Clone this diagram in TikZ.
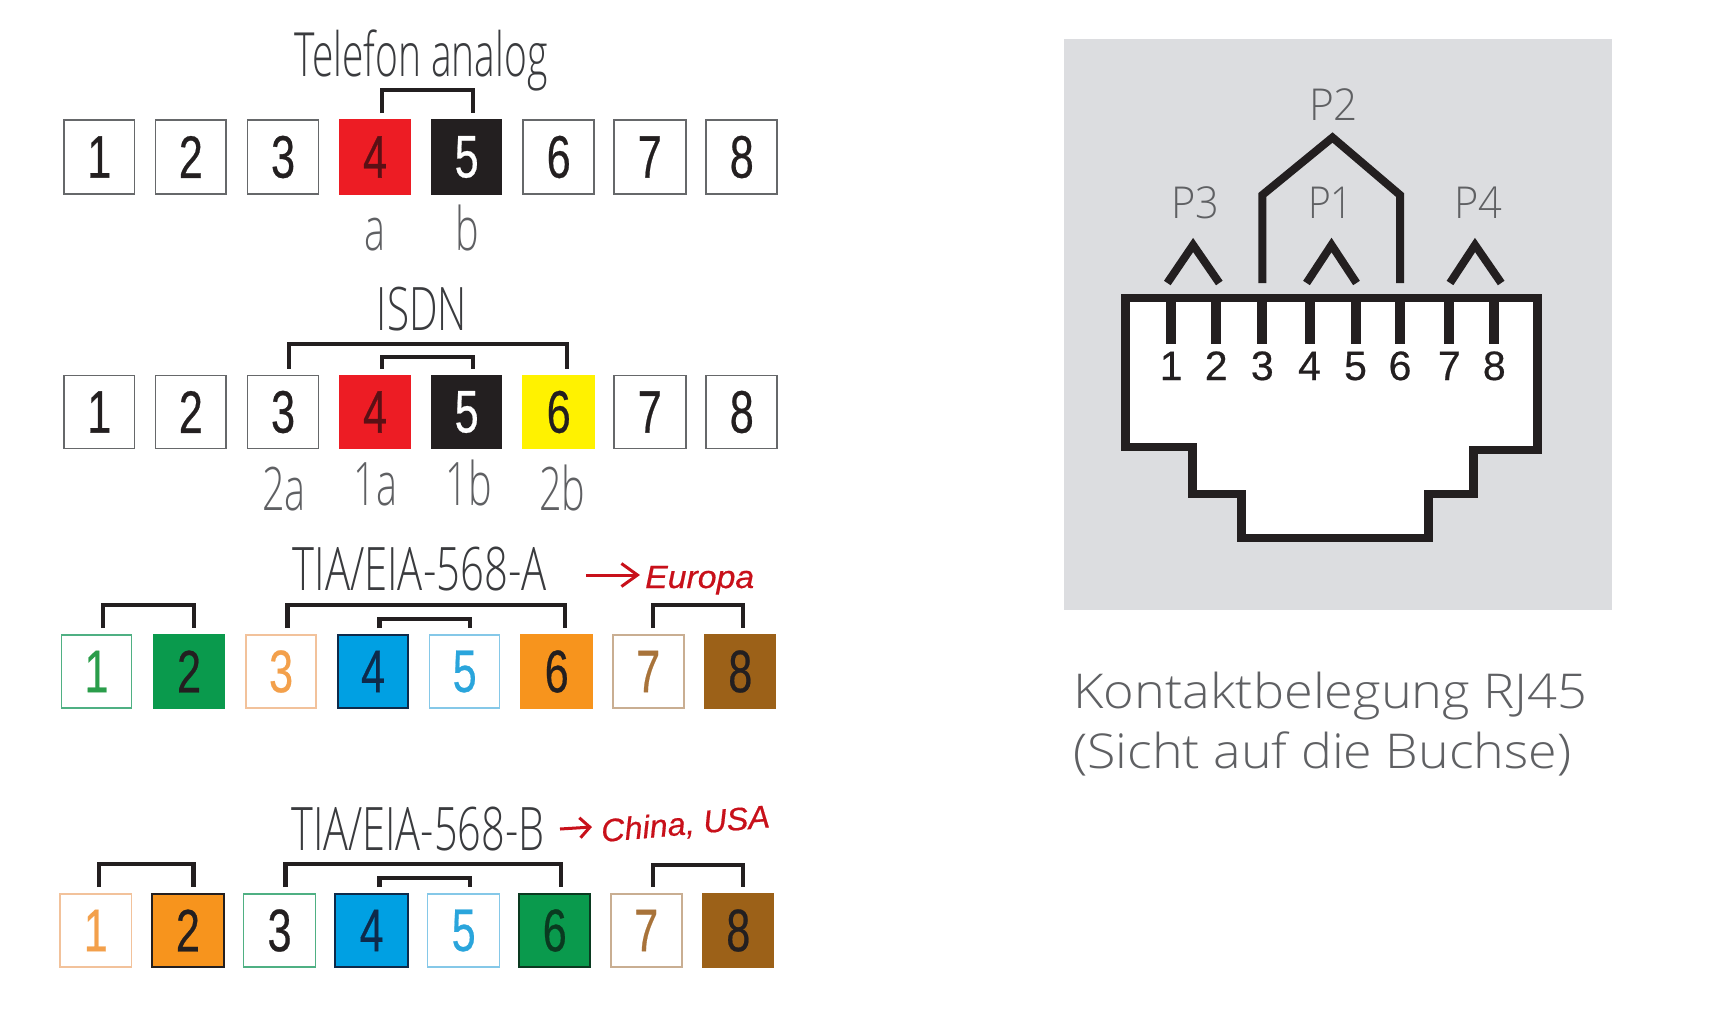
\documentclass[tikz,border=0pt]{standalone}
\usepackage{fontspec}
\usepackage{graphicx}
\setmainfont{Liberation Sans}
\newfontfamily\lightfont{Open Sans Light}
\newfontfamily\medfont[FakeBold=0.5]{Liberation Sans}
\usetikzlibrary{arrows.meta}
\definecolor{ink}{HTML}{231F20}
\definecolor{edge}{HTML}{66686A}
\definecolor{cred}{HTML}{ED1C24}
\definecolor{cyel}{HTML}{FFF200}
\definecolor{cgreen}{HTML}{0A9A4D}
\definecolor{cblue}{HTML}{00A0E3}
\definecolor{corange}{HTML}{F7941D}
\definecolor{cbrown}{HTML}{9C6118}
\definecolor{lgreen}{HTML}{4FB083}
\definecolor{lorange}{HTML}{F2C29B}
\definecolor{lblue}{HTML}{85C8E8}
\definecolor{lbrown}{HTML}{C9AE92}
\definecolor{tgreen}{HTML}{2A9D4A}
\definecolor{torange}{HTML}{F3A04B}
\definecolor{tblue}{HTML}{2AA5DC}
\definecolor{tbrown}{HTML}{A8733A}
\definecolor{tdarkred}{HTML}{5A1015}
\definecolor{tnavy}{HTML}{0E2A4A}
\definecolor{tdkgreen}{HTML}{0A3A20}
\definecolor{panel}{HTML}{DCDDE0}
\definecolor{hand}{HTML}{C8101A}
\definecolor{soft}{HTML}{5F6063}
\definecolor{title}{HTML}{3A3B3E}
\newcommand{\fsz}[1]{\fontsize{#1}{#1}\selectfont}
\newcommand{\fitw}[2]{\resizebox{#1pt}{\height}{#2}}
\newcommand{\digit}[1]{\scalebox{.72}[1]{\medfont\fsz{60}#1}}
\newcommand{\brk}[5]{\draw[bracket] ([xshift=#3pt,yshift=6pt]#1.north) -- ++(0,-#5) -| ([xshift=#4pt,yshift=6pt]#2.north);}
\begin{document}
\begin{tikzpicture}[x=1pt,y=-1pt,
  cellbox/.style={inner sep=0pt,line width=1.6pt,font=\fsz{60}},
  bracket/.style={draw=ink,line width=4.2pt,line cap=butt,line join=miter},
  heading/.style={anchor=base,inner sep=0pt,text=title,font=\lightfont},
  sublabel/.style={anchor=base,inner sep=0pt,text=soft,font=\lightfont},
  jack/.style={draw=ink,line width=8.5pt,line join=miter},
  pinline/.style={draw=ink,line width=10pt},
  caret/.style={draw=ink,line width=8pt,line join=miter},
  pinnum/.style={anchor=base,inner sep=0pt,text=ink,font=\medfont\fsz{41}},
  plabel/.style={anchor=base,inner sep=0pt,text=soft,font=\lightfont},
  caption/.style={anchor=base west,inner sep=0pt,text=soft,font=\lightfont\fsz{48}},
  handtext/.style={inner sep=0pt,text=hand,font=\medfont\itshape},
  handarrow/.style={draw=hand,line width=3pt}
]
\useasboundingbox (0,0) rectangle (1731,1012);
\fill[white] (0,0) rectangle (1731,1012);

\begin{scope}[xscale=.995]
% Row 1
\node[heading] (t1) at (423,76) {\fitw{253}{\fsz{61}Telefon analog}};
\foreach \n/\l/\r/\f/\d/\t in {1/64.5/135/white/edge/ink,2/156.6/227/white/edge/ink,3/249/320/white/edge/ink,4/342/412/cred/cred/tdarkred,5/434/504/ink/ink/white,6/526/597/white/edge/ink,7/617/689/white/edge/ink,8/710/781/white/edge/ink}
  \node[cellbox,draw=\d,fill=\f,text=\t,minimum width={\r-\l},minimum height=74pt] (a\n) at ({(\l+\r)/2},157) {\digit{\n}};
\brk{a4}{a5}{7}{6}{23}
\node[sublabel] (la) at (377,250) {\scalebox{.66}[1]{\fsz{60}a}};
\node[sublabel] (lb) at (470,250) {\scalebox{.66}[1]{\fsz{60}b}};

% Row 2
\node[heading] (t2) at (424,330) {\fitw{90}{\fsz{60}ISDN}};
\foreach \n/\l/\r/\f/\d/\t in {1/64.5/135/white/edge/ink,2/156.6/227/white/edge/ink,3/249/320/white/edge/ink,4/342/412/cred/cred/tdarkred,5/434/504/ink/ink/white,6/526/597/cyel/cyel/ink,7/617/689/white/edge/ink,8/710/781/white/edge/ink}
  \node[cellbox,draw=\d,fill=\f,text=\t,minimum width={\r-\l},minimum height=73pt] (b\n) at ({(\l+\r)/2},412) {\digit{\n}};
\brk{b3}{b6}{6}{8}{25}
\brk{b4}{b5}{7}{6}{12}
\node[sublabel] (l2a) at (285.5,510) {\scalebox{.66}[1]{\fsz{60}2a}};
\node[sublabel] (l1a) at (377.6,505) {\scalebox{.66}[1]{\fsz{60}1a}};
\node[sublabel] (l1b) at (471,505) {\scalebox{.66}[1]{\fsz{60}1b}};
\node[sublabel] (l2b) at (565,510) {\scalebox{.66}[1]{\fsz{60}2b}};

% Row 3
\node[heading] (t3) at (421.7,590) {\fitw{254}{\fsz{60}TIA/EIA-568-A}};
\foreach \n/\l/\r/\f/\d/\t in {1/62/132/white/lgreen/tgreen,2/155/225/cgreen/cgreen/ink,3/247.5/317.5/white/lorange/torange,4/340/410/cblue/tnavy/tnavy,5/432/502/white/lblue/tblue,6/524/595/corange/corange/ink,7/616/687/white/lbrown/tbrown,8/709/779/cbrown/cbrown/ink}
  \node[cellbox,draw=\d,fill=\f,text=\t,minimum width={\r-\l},minimum height=73pt] (c\n) at ({(\l+\r)/2},671.5) {\digit{\n}};
\brk{c1}{c2}{6.6}{4.6}{23}
\brk{c3}{c6}{6.5}{8.5}{23}
\brk{c4}{c5}{6.5}{5.5}{9}
\brk{c7}{c8}{4.5}{3}{23}

% Row 4
\node[heading] (t4) at (420,850) {\fitw{253}{\fsz{60}TIA/EIA-568-B}};
\foreach \n/\l/\r/\f/\d/\t in {1/60.6/132/white/lorange/torange,2/152.7/225/corange/ink/ink,3/245/317/white/lgreen/ink,4/337/410/cblue/tnavy/tnavy,5/430/502/white/lblue/tblue,6/522/593/cgreen/tdkgreen/tdkgreen,7/614/685/white/lbrown/tbrown,8/707/777/cbrown/cbrown/ink}
  \node[cellbox,draw=\d,fill=\f,text=\t,minimum width={\r-\l},minimum height=73pt] (d\n) at ({(\l+\r)/2},930.5) {\digit{\n}};
\brk{d1}{d2}{3}{5.6}{23}
\brk{d3}{d6}{6}{6.5}{23}
\brk{d4}{d5}{8}{6}{9}
\brk{d7}{d8}{6.5}{5}{22}
\end{scope}

% Handwritten notes
\coordinate (ea) at (586,575);
\coordinate (eb) at (640,575);
\draw[handarrow,-{Straight Barb[length=16pt,width=23pt]}] (ea) -- (eb);
\node[handtext,anchor=base west] (eu) at (645,588) {\fitw{109}{\fsz{32}Europa}};
\coordinate (ca) at (560,829);
\coordinate (cb) at (592,827);
\draw[handarrow,-{Straight Barb[length=10pt,width=20pt]}] (ca) -- (cb);
\node[handtext,anchor=base west,rotate=5] (ch) at (602,842) {\fitw{169}{\fsz{32}China, USA}};

% Right panel
\fill[panel] (1063.6,39) rectangle (1612.3,610);
\begin{scope}[xshift=-1.5pt]
\draw[jack,fill=white] (1127,298) -- (1539,298) -- (1539,450) -- (1475,450) -- (1475,494) -- (1430,494) -- (1430,538) -- (1243,538) -- (1243,494) -- (1194,494) -- (1194,447) -- (1127,447) -- cycle;
\foreach \x/\n in {1172.7/1,1217.7/2,1263.8/3,1311/4,1357/5,1401.5/6,1450.8/7,1495.8/8} {
  \draw[pinline] (\x,298) -- (\x,344);
  \node[pinnum] (p\n) at (\x,380) {\n};
}
\draw[caret] (1168.8,283) -- (1194.6,245) -- (1220.8,283);
\draw[caret] (1308,283) -- (1333,245) -- (1358,283);
\draw[caret] (1451.5,283) -- (1476.5,245) -- (1502.7,283);
\draw[caret] (1263.8,283) -- (1263.8,195) -- (1334,137.5) -- (1401.5,195) -- (1401.5,283);
\node[plabel] (P2) at (1335,120) {\fitw{49}{\fsz{44}P2}};
\node[plabel] (P3) at (1196.5,218) {\fitw{48}{\fsz{44}P3}};
\node[plabel] (P1) at (1332,218) {\fitw{45}{\fsz{44}P1}};
\node[plabel] (P4) at (1480,218) {\fitw{48}{\fsz{44}P4}};
\node[caption] (k1) at (1074.6,708) {\fitw{514}{Kontaktbelegung RJ45}};
\node[caption] (k2) at (1074.6,768) {\fitw{498}{(Sicht auf die Buchse)}};
\end{scope}
\end{tikzpicture}
\end{document}
